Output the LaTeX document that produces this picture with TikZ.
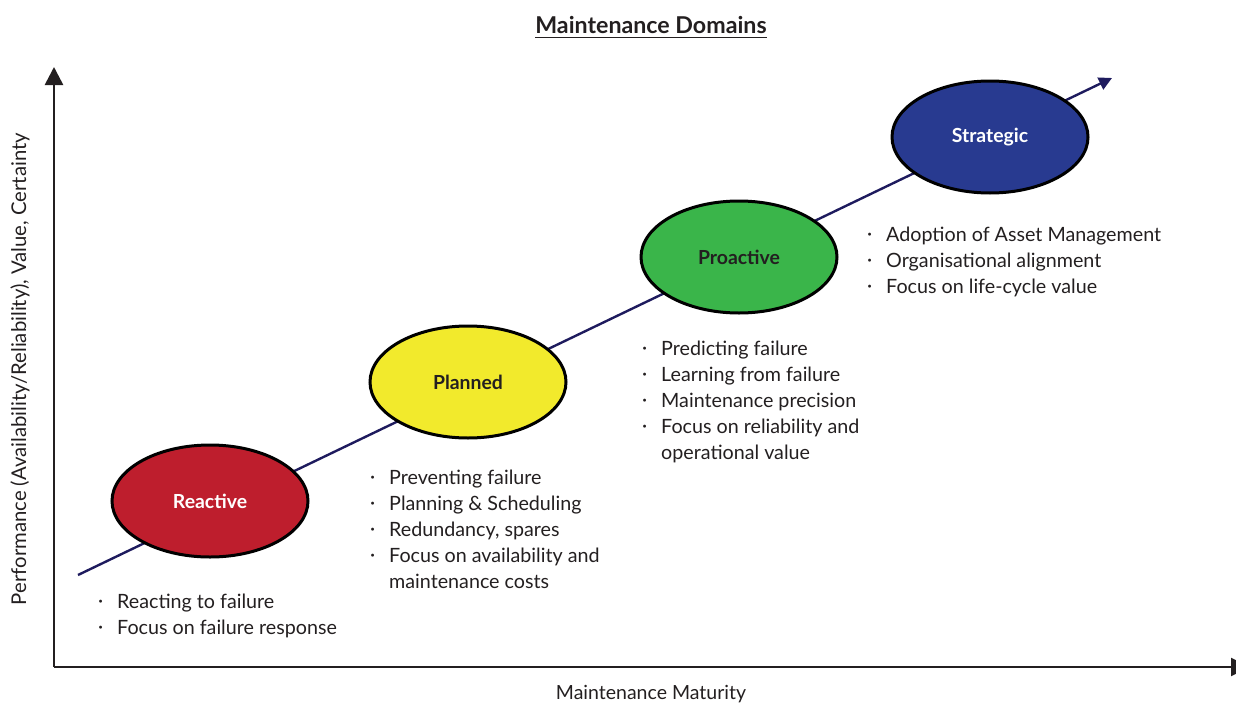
\documentclass[tikz,border=0pt]{standalone}
\usepackage{fontspec}
\setmainfont{Lato}
\usetikzlibrary{arrows.meta,shapes.geometric}
\definecolor{ink}{HTML}{231F20}
\definecolor{navy}{HTML}{1E1B5E}
\definecolor{cReactive}{HTML}{BE1E2D}
\definecolor{cPlanned}{HTML}{F2EA2C}
\definecolor{cProactive}{HTML}{3AB54A}
\definecolor{cStrategic}{HTML}{283A90}
\tikzset{
  axis/.style={line width=2.6pt, draw=ink, -{Triangle[length=18pt,width=18pt]}},
  trend/.style={line width=2.4pt, draw=navy, -{Triangle[length=13pt,width=13pt]}},
  stage/.style={ellipse, draw=black, line width=3pt, minimum width=196pt,
    minimum height=112pt, inner sep=0pt, font=\fontsize{19.4}{22}\selectfont\bfseries},
  bullets/.style={anchor=north west, align=left, text=ink, inner sep=0pt,
    font=\fontsize{19.7}{26}\selectfont},
  axislabel/.style={text=ink, inner sep=0pt, font=\fontsize{19.5}{22}\selectfont},
}
\newcommand{\bitem}[1]{\makebox[19pt][l]{\raisebox{0.1ex}{\textperiodcentered}}#1}
\begin{document}
\begin{tikzpicture}[x=1pt,y=-1pt]
  \useasboundingbox (0,0) rectangle (1236,704);

  % title
  \node[text=ink, font=\fontsize{23.2}{26}\selectfont\bfseries, inner sep=0pt] (title) at (651,25) {Maintenance Domains};
  \draw[ink, line width=1.6pt] (535,37.5) -- (767,37.5);

  % axes
  \coordinate (origin) at (54,667);
  \coordinate (ytop) at (54,67);
  \coordinate (xend) at (1249,667);
  \draw[axis] (origin) -- (ytop);
  \draw[axis] (origin) -- (xend);
  \node[axislabel, font=\fontsize{20.3}{22}\selectfont, rotate=90] (ylab) at (20,369) {Performance (Availability/Reliability), Value, Certainty};
  \node[axislabel] (xlab) at (651,694) {Maintenance Maturity};

  % maturity trend line
  \coordinate (tstart) at (78,575);
  \coordinate (tend) at (1112,78);
  \draw[trend] (tstart) -- (tend);

  % maintenance stages
  \node[stage, fill=cReactive, text=white] (reactive) at (210,501) {Reactive};
  \node[stage, fill=cPlanned, text=ink] (planned) at (468,382) {Planned};
  \node[stage, fill=cProactive, text=ink] (proactive) at (739,257) {Proactive};
  \node[stage, fill=cStrategic, text=white] (strategic) at (990,137) {Strategic};

  % characteristics of each stage
  \node[bullets] (lreactive) at (98,594) {\bitem{Reacting to failure}\\\bitem{Focus on failure response}};
  \node[bullets] (lplanned) at (370,470) {\bitem{Preventing failure}\\\bitem{Planning \& Scheduling}\\\bitem{Redundancy, spares}\\\bitem{Focus on availability and}\\\hspace*{19pt}maintenance costs};
  \node[bullets] (lproactive) at (642,341) {\bitem{Predicting failure}\\\bitem{Learning from failure}\\\bitem{Maintenance precision}\\\bitem{Focus on reliability and}\\\hspace*{19pt}operational value};
  \node[bullets] (lstrategic) at (867,227) {\bitem{Adoption of Asset Management}\\\bitem{Organisational alignment}\\\bitem{Focus on life-cycle value}};
\end{tikzpicture}
\end{document}
